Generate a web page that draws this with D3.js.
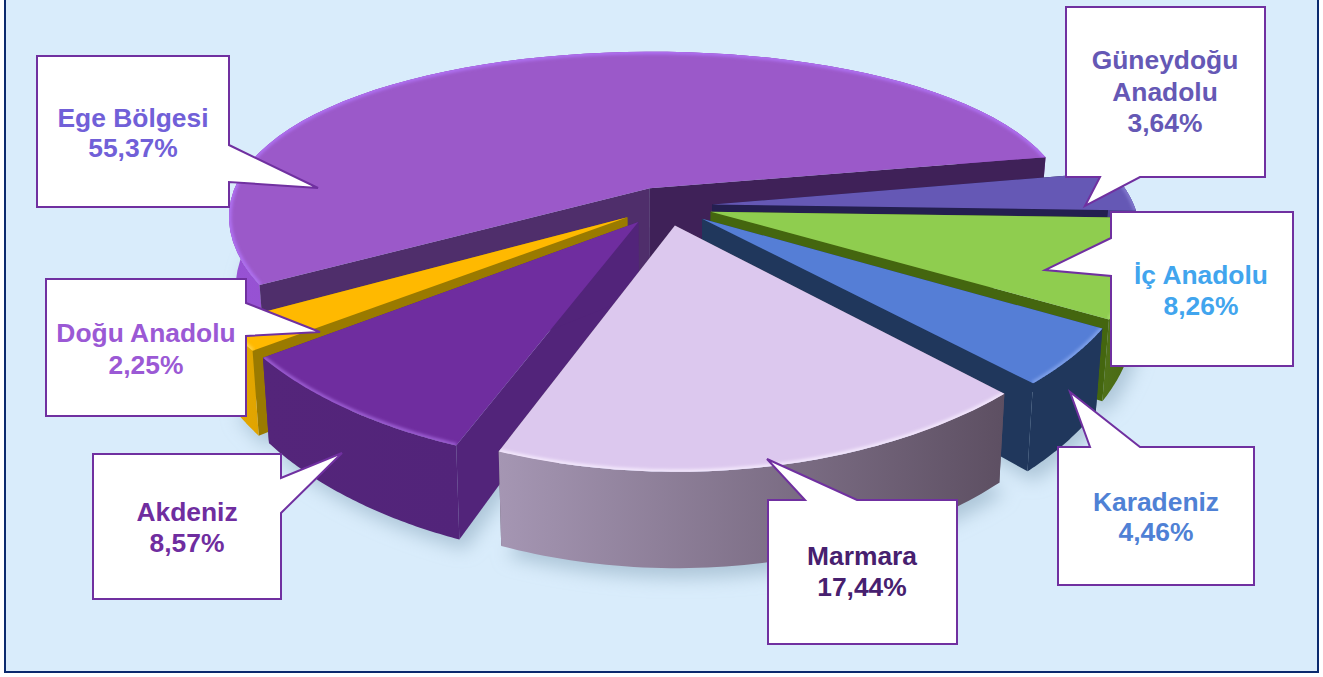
<!DOCTYPE html>
<html>
<head>
<meta charset="utf-8">
<script src="https://cdn.jsdelivr.net/npm/d3@7"></script>
<style>
  html, body { margin: 0; padding: 0; background: #fff; overflow: hidden; }
  text { font-family: "Liberation Sans", Arial, sans-serif; font-weight: bold; font-size: 26.4px; text-anchor: middle; }
</style>
</head>
<body>
<svg id="svg" width="1323" height="677"></svg>
<script>
// values, clockwise from Ege
const regions = ['Ege Bölgesi', 'Güneydoğu Anadolu', 'İç Anadolu', 'Karadeniz', 'Marmara', 'Akdeniz', 'Doğu Anadolu'];
const shares = [55.37, 3.64, 8.26, 4.46, 17.44, 8.57, 2.25];
const shareLabels = ['55,37%', '3,64%', '8,26%', '4,46%', '17,44%', '8,57%', '2,25%'];

// slice colours: top face, outer wall (left, right), cut faces (start, end), rim highlight
const topColors = ['#9b59c9', '#6558b5', '#8fcd4f', '#557ed6', '#dcc8ee', '#6f2d9f', '#ffb900'];
const wallLeft = ['#9752d4', '#4a4190', '#4f7019', '#20375c', '#a596b3', '#54257a', '#e5a800'];
const wallRight = ['#8a4cb8', '#4a4190', '#44660f', '#20375c', '#5d4f62', '#52247a', '#e0a400'];
const cutStart = ['#4f2e6b', '#241f50', '#44660f', '#20375c', '#5d4f62', '#52247a', '#9a7a00'];
const cutEnd = ['#3f2158', '#241f50', '#44660f', '#20375c', '#5d4f62', '#52247a', '#9a7a00'];
const rimColors = ['#ae70f0', '#8076cc', '#a6dc6c', '#7d9fe8', '#f2e6fb', '#9a5cd0', '#ffd040'];
const textColors = ['#7160d8', '#6558b5', '#41a5ee', '#4f81d5', '#47206f', '#6f2d9f', '#9b59d5'];

// callout boxes: rect + pointer, text is centred in x at the given baselines
const callouts = [
  { i: 0, lines: ['Ege Bölgesi'], box: [37, 56, 229, 207], tip: [[229, 145], [318, 188], [229, 182]], cx: 133, y: 127, gap: 29.5 },
  { i: 1, lines: ['Güneydoğu', 'Anadolu'], box: [1066, 7, 1265, 177], tip: [[1100, 177], [1085, 206], [1140, 177]], cx: 1165, y: 69, gap: 31.5 },
  { i: 2, lines: ['İç Anadolu'], box: [1111, 212, 1293, 366], tip: [[1111, 238], [1045, 270], [1111, 276]], cx: 1201, y: 284, gap: 31 },
  { i: 3, lines: ['Karadeniz'], box: [1058, 447, 1254, 585], tip: [[1090, 447], [1070, 392], [1140, 447]], cx: 1156, y: 511, gap: 30 },
  { i: 4, lines: ['Marmara'], box: [768, 500, 957, 644], tip: [[805, 500], [767, 459], [857, 500]], cx: 862, y: 565, gap: 31 },
  { i: 5, lines: ['Akdeniz'], box: [93, 454, 281, 599], tip: [[281, 478], [342, 453], [281, 513]], cx: 187, y: 521, gap: 31 },
  { i: 6, lines: ['Doğu Anadolu'], box: [46, 279, 246, 416], tip: [[246, 303], [320, 332], [246, 336]], cx: 146, y: 342, gap: 31.5 }
];

// pie geometry
const cx = 666, cy = 206;      // screen position of the disc centre
const Rx = 422, Ry = 176.6;    // disc radii before perspective
const perspY = 0.238, perspX = 0.16; // front gets bigger, back gets smaller
const explode = 0.11;
const depth = 71;
const startDeg = 239.5;        // where Ege starts, d3.pie angle

const xs = d3.scaleLinear().domain([-1, 1]).range([cx - Rx, cx + Rx]);
const ys = d3.scaleLinear().domain([-1, 1]).range([cy - Ry, cy + Ry]);

const project = (u, v, low) => {
  const w = 1 - perspY * v;
  const sx = xs(u / (1 - perspX * v)), sy = ys(v / w);
  if (!low) return [sx, sy];
  return [cx + (sx - cx) * 0.985, sy + depth / w];
};

const pie = d3.pie().sort(null)
  .startAngle(startDeg * Math.PI / 180)
  .endAngle((startDeg + 360) * Math.PI / 180);
const arcs = pie(shares);

const polar = (d, a, r, low) => {
  const mid = (d.startAngle + d.endAngle) / 2;
  const u = explode * Math.sin(mid) + r * Math.sin(a);
  const v = -explode * Math.cos(mid) - r * Math.cos(a);
  return project(u, v, low);
};

const rimAngles = (d) => d3.range(0, 61).map(k => d.startAngle + (d.endAngle - d.startAngle) * k / 60);
const line = d3.line();

const svg = d3.select('#svg');
const defs = svg.append('defs');

defs.append('filter').attr('id', 'soft').attr('x', '-10%').attr('y', '-10%').attr('width', '120%').attr('height', '120%')
  .append('feGaussianBlur').attr('stdDeviation', 9);
defs.append('filter').attr('id', 'bevel').attr('x', '-5%').attr('y', '-5%').attr('width', '110%').attr('height', '110%')
  .append('feGaussianBlur').attr('stdDeviation', 1.4);

arcs.forEach((d, i) => {
  const g = defs.append('linearGradient').attr('id', `wall-${i}`).attr('gradientUnits', 'objectBoundingBox');
  g.append('stop').attr('offset', '0%').attr('stop-color', wallLeft[i]);
  g.append('stop').attr('offset', '100%').attr('stop-color', wallRight[i]);
});

// background and frame
svg.append('rect').attr('x', 5).attr('y', -3).attr('width', 1313).attr('height', 675)
  .attr('fill', '#d9ecfb').attr('stroke', '#0b2a6e').attr('stroke-width', 2);

// drawing order, back to front
const order = [0, 1, 2, 3, 6, 5, 4];

// soft shadow under the wall
const shadow = svg.append('g').attr('filter', 'url(#soft)').attr('transform', 'translate(6,10)');
order.forEach(i => {
  const d = arcs[i];
  const low = rimAngles(d).map(a => polar(d, a, 1, true));
  low.push(polar(d, d.startAngle, 0, true));
  shadow.append('path').attr('d', line(low) + 'Z').attr('fill', '#9fb9cc').attr('opacity', 0.75);
});

const pieG = svg.append('g');
order.forEach(i => {
  const d = arcs[i];
  const g = pieG.append('g').attr('class', 'slice');
  const big = d.endAngle - d.startAngle > Math.PI;
  const angles = rimAngles(d);
  const rimTop = angles.map(a => polar(d, a, 1, false));
  const rimLow = angles.map(a => polar(d, a, 1, true));
  const apexTop = polar(d, d.startAngle, 0, false);
  const apexLow = polar(d, d.startAngle, 0, true);
  // the big slice's core has to fill the hole between the exploded slices
  if (big) apexLow[1] += 40;

  const drawWall = () => g.append('path')
    .attr('d', line(rimTop.concat(rimLow.slice().reverse())) + 'Z')
    .attr('fill', `url(#wall-${i})`);
  const drawCuts = () => [0, rimTop.length - 1].forEach(k => {
    g.append('path')
      .attr('d', line([apexTop, rimTop[k], rimLow[k], apexLow]) + 'Z')
      .attr('fill', k === 0 ? cutStart[i] : cutEnd[i]);
  });

  // the big slice wraps round the back, its wall must stay behind the cuts
  if (big) { drawWall(); drawCuts(); }
  else { drawCuts(); drawWall(); }

  // top face
  const topPath = line([apexTop].concat(rimTop)) + 'Z';
  g.append('path').attr('d', topPath).attr('fill', topColors[i]);

  // light rim along the edge of the top face
  defs.append('clipPath').attr('id', `top-${i}`).append('path').attr('d', topPath);
  g.append('path')
    .attr('d', line(rimTop))
    .attr('fill', 'none')
    .attr('stroke', rimColors[i])
    .attr('stroke-width', 5)
    .attr('filter', 'url(#bevel)')
    .attr('clip-path', `url(#top-${i})`);
});

// callouts
callouts.forEach(c => {
  const [x0, y0, x1, y1] = c.box;
  const g = svg.append('g').attr('class', 'callout');

  // splice the pointer into whichever side it sits on
  const t = c.tip;
  let outline;
  if (t[0][0] === x1) outline = [[x0, y0], [x1, y0], ...t, [x1, y1], [x0, y1]];
  else if (t[0][1] === y1) outline = [[x0, y0], [x1, y0], [x1, y1], t[2], t[1], t[0], [x0, y1]];
  else if (t[0][0] === x0) outline = [[x0, y0], [x1, y0], [x1, y1], [x0, y1], t[2], t[1], t[0]];
  else outline = [[x0, y0], t[0], t[1], t[2], [x1, y0], [x1, y1], [x0, y1]];

  g.append('path').attr('d', line(outline) + 'Z')
    .attr('fill', '#fff').attr('stroke', '#7030a0').attr('stroke-width', 2).attr('stroke-linejoin', 'miter');

  const rows = c.lines.concat([shareLabels[c.i]]);
  g.selectAll('text').data(rows).enter().append('text')
    .attr('x', c.cx)
    .attr('y', (r, k) => c.y + k * c.gap)
    .attr('fill', textColors[c.i])
    .text(r => r);
});
</script>
</body>
</html>
